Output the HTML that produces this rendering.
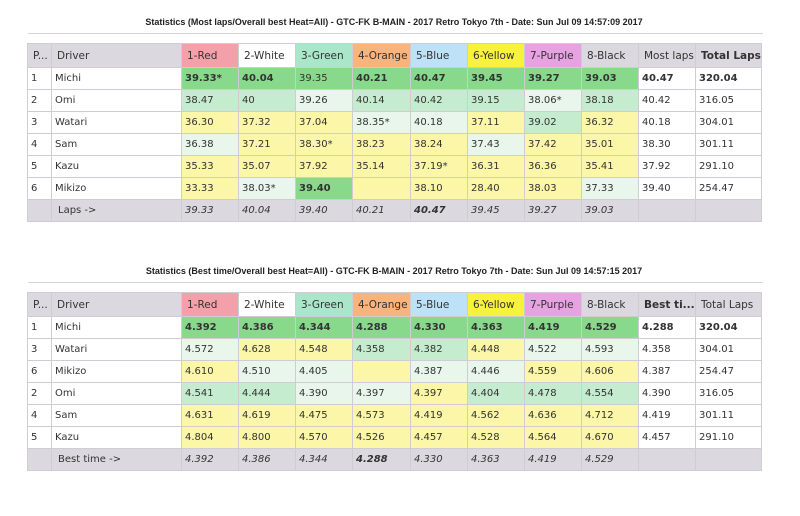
<!DOCTYPE html><html><head><meta charset="utf-8"><style>
body{margin:0;width:800px;height:516px;background:#fff;position:relative;overflow:hidden;font-family:"DejaVu Sans","Liberation Sans",sans-serif;}
.t{position:absolute;left:0;width:788px;text-align:center;font:bold 9px "Liberation Sans",sans-serif;color:#222;}
.ln{position:absolute;left:28px;width:735px;height:1px;background:#d4d4d8;}
table{position:absolute;left:27px;border-collapse:collapse;table-layout:fixed;font-size:10px;color:#333;}
td{border:1px solid #cfcdd3;height:21px;padding:0 0 0 3px;white-space:nowrap;overflow:hidden;}
tr.h td{height:23px;background:#dcd8e0;font-size:10.5px;padding-left:5px;}
tr.f td{background:#dcd8e0;font-style:italic;}
.G{background:#88d98c;font-weight:bold}.L{background:#c6eccf}.V{background:#e9f6ec}.Y{background:#fbf6a8}
.w{background:#fff}.b{font-weight:bold}
.r{background:#f4a0ab!important}.wh{background:#fff!important}.gr{background:#a9e6ca!important}.or{background:#f8b47c!important}.bl{background:#bde2f7!important}.ye{background:#f8f23c!important}.pu{background:#e7a2e2!important}
</style></head><body>
<div class="t" style="top:17px">Statistics (Most laps/Overall best Heat=All) - GTC-FK B-MAIN - 2017 Retro Tokyo 7th - Date: Sun Jul 09 14:57:09 2017</div>
<div class="ln" style="top:33px"></div>
<table style="top:43px">
<colgroup><col style="width:24px"><col style="width:130px"><col style="width:57px"><col style="width:57px"><col style="width:57px"><col style="width:58px"><col style="width:57px"><col style="width:57px"><col style="width:57px"><col style="width:57px"><col style="width:57px"><col style="width:66px"></colgroup>
<tr class="h"><td>P...</td><td>Driver</td><td class="r">1-Red</td><td class="wh">2-White</td><td class="gr">3-Green</td><td class="or">4-Orange</td><td class="bl">5-Blue</td><td class="ye">6-Yellow</td><td class="pu">7-Purple</td><td>8-Black</td><td>Most laps</td><td class="b">Total Laps</td></tr>
<tr><td>1</td><td>Michi</td><td class="G">39.33*</td><td class="G">40.04</td><td class="G" style="font-weight:normal">39.35</td><td class="G">40.21</td><td class="G">40.47</td><td class="G">39.45</td><td class="G">39.27</td><td class="G">39.03</td><td class="b">40.47</td><td class="b">320.04</td></tr>
<tr><td>2</td><td>Omi</td><td class="L">38.47</td><td class="L">40</td><td class="V">39.26</td><td class="L">40.14</td><td class="L">40.42</td><td class="L">39.15</td><td class="V">38.06*</td><td class="L">38.18</td><td>40.42</td><td>316.05</td></tr>
<tr><td>3</td><td>Watari</td><td class="Y">36.30</td><td class="Y">37.32</td><td class="Y">37.04</td><td class="V">38.35*</td><td class="V">40.18</td><td class="Y">37.11</td><td class="L">39.02</td><td class="Y">36.32</td><td>40.18</td><td>304.01</td></tr>
<tr><td>4</td><td>Sam</td><td class="V">36.38</td><td class="Y">37.21</td><td class="Y">38.30*</td><td class="Y">38.23</td><td class="Y">38.24</td><td class="V">37.43</td><td class="Y">37.42</td><td class="Y">35.01</td><td>38.30</td><td>301.11</td></tr>
<tr><td>5</td><td>Kazu</td><td class="Y">35.33</td><td class="Y">35.07</td><td class="Y">37.92</td><td class="Y">35.14</td><td class="Y">37.19*</td><td class="Y">36.31</td><td class="Y">36.36</td><td class="Y">35.41</td><td>37.92</td><td>291.10</td></tr>
<tr><td>6</td><td>Mikizo</td><td class="Y">33.33</td><td class="V">38.03*</td><td class="G">39.40</td><td class="Y"></td><td class="Y">38.10</td><td class="Y">28.40</td><td class="Y">38.03</td><td class="V">37.33</td><td>39.40</td><td>254.47</td></tr>
<tr class="f"><td></td><td style="font-style:normal;padding-left:6px">Laps -&gt;</td><td>39.33</td><td>40.04</td><td>39.40</td><td>40.21</td><td class="b">40.47</td><td>39.45</td><td>39.27</td><td>39.03</td><td></td><td></td></tr>
</table>
<div class="t" style="top:266px">Statistics (Best time/Overall best Heat=All) - GTC-FK B-MAIN - 2017 Retro Tokyo 7th - Date: Sun Jul 09 14:57:15 2017</div>
<div class="ln" style="top:282px"></div>
<table style="top:292px">
<colgroup><col style="width:24px"><col style="width:130px"><col style="width:57px"><col style="width:57px"><col style="width:57px"><col style="width:58px"><col style="width:57px"><col style="width:57px"><col style="width:57px"><col style="width:57px"><col style="width:57px"><col style="width:66px"></colgroup>
<tr class="h"><td>P...</td><td>Driver</td><td class="r">1-Red</td><td class="wh">2-White</td><td class="gr">3-Green</td><td class="or">4-Orange</td><td class="bl">5-Blue</td><td class="ye">6-Yellow</td><td class="pu">7-Purple</td><td>8-Black</td><td class="b">Best ti...</td><td>Total Laps</td></tr>
<tr><td>1</td><td>Michi</td><td class="G">4.392</td><td class="G">4.386</td><td class="G">4.344</td><td class="G">4.288</td><td class="G">4.330</td><td class="G">4.363</td><td class="G">4.419</td><td class="G">4.529</td><td class="b">4.288</td><td class="b">320.04</td></tr>
<tr><td>3</td><td>Watari</td><td class="V">4.572</td><td class="Y">4.628</td><td class="Y">4.548</td><td class="L">4.358</td><td class="L">4.382</td><td class="Y">4.448</td><td class="V">4.522</td><td class="V">4.593</td><td>4.358</td><td>304.01</td></tr>
<tr><td>6</td><td>Mikizo</td><td class="Y">4.610</td><td class="V">4.510</td><td class="V">4.405</td><td class="Y"></td><td class="V">4.387</td><td class="V">4.446</td><td class="Y">4.559</td><td class="Y">4.606</td><td>4.387</td><td>254.47</td></tr>
<tr><td>2</td><td>Omi</td><td class="L">4.541</td><td class="L">4.444</td><td class="V">4.390</td><td class="V">4.397</td><td class="Y">4.397</td><td class="L">4.404</td><td class="L">4.478</td><td class="L">4.554</td><td>4.390</td><td>316.05</td></tr>
<tr><td>4</td><td>Sam</td><td class="Y">4.631</td><td class="Y">4.619</td><td class="Y">4.475</td><td class="Y">4.573</td><td class="Y">4.419</td><td class="Y">4.562</td><td class="Y">4.636</td><td class="Y">4.712</td><td>4.419</td><td>301.11</td></tr>
<tr><td>5</td><td>Kazu</td><td class="Y">4.804</td><td class="Y">4.800</td><td class="Y">4.570</td><td class="Y">4.526</td><td class="Y">4.457</td><td class="Y">4.528</td><td class="Y">4.564</td><td class="Y">4.670</td><td>4.457</td><td>291.10</td></tr>
<tr class="f"><td></td><td style="font-style:normal;padding-left:6px">Best time -&gt;</td><td>4.392</td><td>4.386</td><td>4.344</td><td class="b">4.288</td><td>4.330</td><td>4.363</td><td>4.419</td><td>4.529</td><td></td><td></td></tr>
</table>
</body></html>
